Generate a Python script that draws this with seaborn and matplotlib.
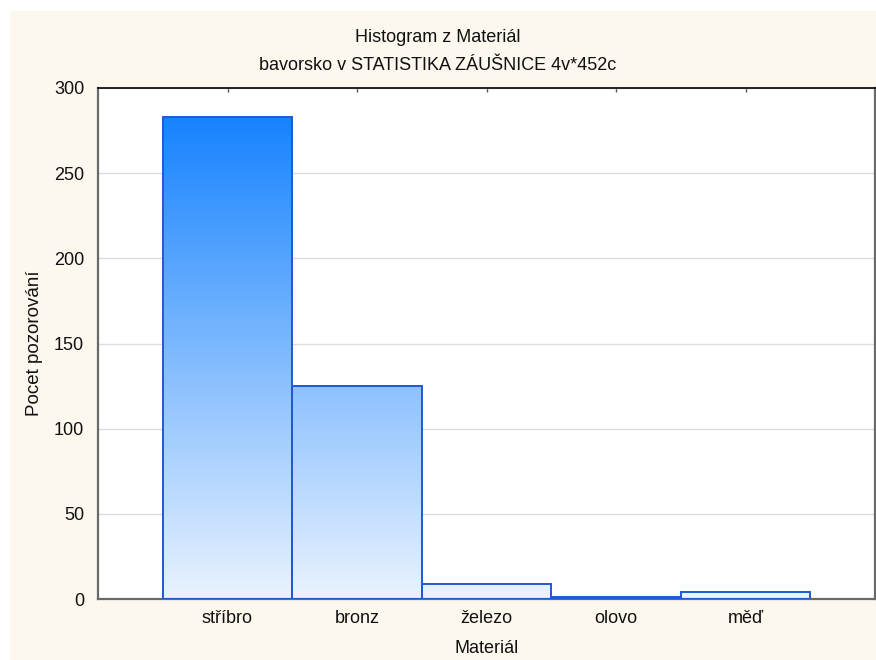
import numpy as np
import pandas as pd
import matplotlib
matplotlib.use('Agg')
import matplotlib.pyplot as plt
import seaborn as sns
from matplotlib.colors import LinearSegmentedColormap
from matplotlib.patches import Rectangle

# Data
materials = ['stříbro', 'bronz', 'železo', 'olovo', 'měď']
counts = [283, 125, 9, 1, 4]
y_ticks = [0, 50, 100, 150, 200, 250, 300]

df = pd.DataFrame({'Materiál': materials, 'Pocet': counts})

sns.set_style('white')
plt.rcParams['font.family'] = ['Liberation Sans', 'DejaVu Sans']

fig = plt.figure(figsize=(8.76, 6.6), dpi=100, facecolor='white')
# cream panel behind the plot
fig.patches.append(Rectangle((10 / 876, -0.05), 1.1, 0.05 + (660 - 11) / 660,
                             transform=fig.transFigure,
                             facecolor='#fdf8ee', edgecolor='none', zorder=-10))
ax = fig.add_axes([98 / 876, 61 / 660, 777 / 876, 511 / 660])
ax.set_zorder(1)
ax.set_facecolor('white')

sns.barplot(data=df, x='Materiál', y='Pocet', width=1.0, color='#4a9bff',
            edgecolor='#2159d2', linewidth=1.4, ax=ax, zorder=3)

# vertical blue gradient fill, clipped to each bar
cmap = LinearSegmentedColormap.from_list('bars', ['#eaf3fe', '#0a7cff'])
grad = np.linspace(0, 1, 256).reshape(-1, 1)
for p in ax.patches:
    x0 = p.get_x()
    x1 = x0 + p.get_width()
    p.set_facecolor('none')
    im = ax.imshow(grad, cmap=cmap, origin='lower', aspect='auto',
                   extent=[x0, x1, 0, 300], zorder=2)
    im.set_clip_path(p)
ax.set_xlim(-1, 5)
ax.set_ylim(0, 300)

ax.set_yticks(y_ticks)
ax.yaxis.grid(True, color='#dddddd', linewidth=1)
ax.set_axisbelow(True)

ax.tick_params(axis='y', direction='out', length=4, width=1, color='#555555',
               labelsize=13, pad=6, labelcolor='#111111')
ax.tick_params(axis='x', direction='in', length=3, width=1, color='#555555',
               labelsize=13, pad=8, labelcolor='#111111', top=True)

for side in ['left', 'bottom', 'right']:
    ax.spines[side].set_color('#6a6a6a')
    ax.spines[side].set_linewidth(1.6)
ax.spines['top'].set_color('black')
ax.spines['top'].set_linewidth(1.2)

ax.set_xlabel('Materiál', fontsize=13, color='#111111', labelpad=9)
ax.set_ylabel('Pocet pozorování', fontsize=13.5, color='#111111', labelpad=8)

fig.text(0.5, 1 - 38 / 660, 'Histogram z Materiál', ha='center', va='center',
         fontsize=13, color='#111111')
fig.text(0.5, 1 - 66 / 660, 'bavorsko v STATISTIKA ZÁUŠNICE 4v*452c', ha='center', va='center',
         fontsize=13, color='#111111')

fig.savefig('out.png', dpi=100, facecolor=fig.get_facecolor())
